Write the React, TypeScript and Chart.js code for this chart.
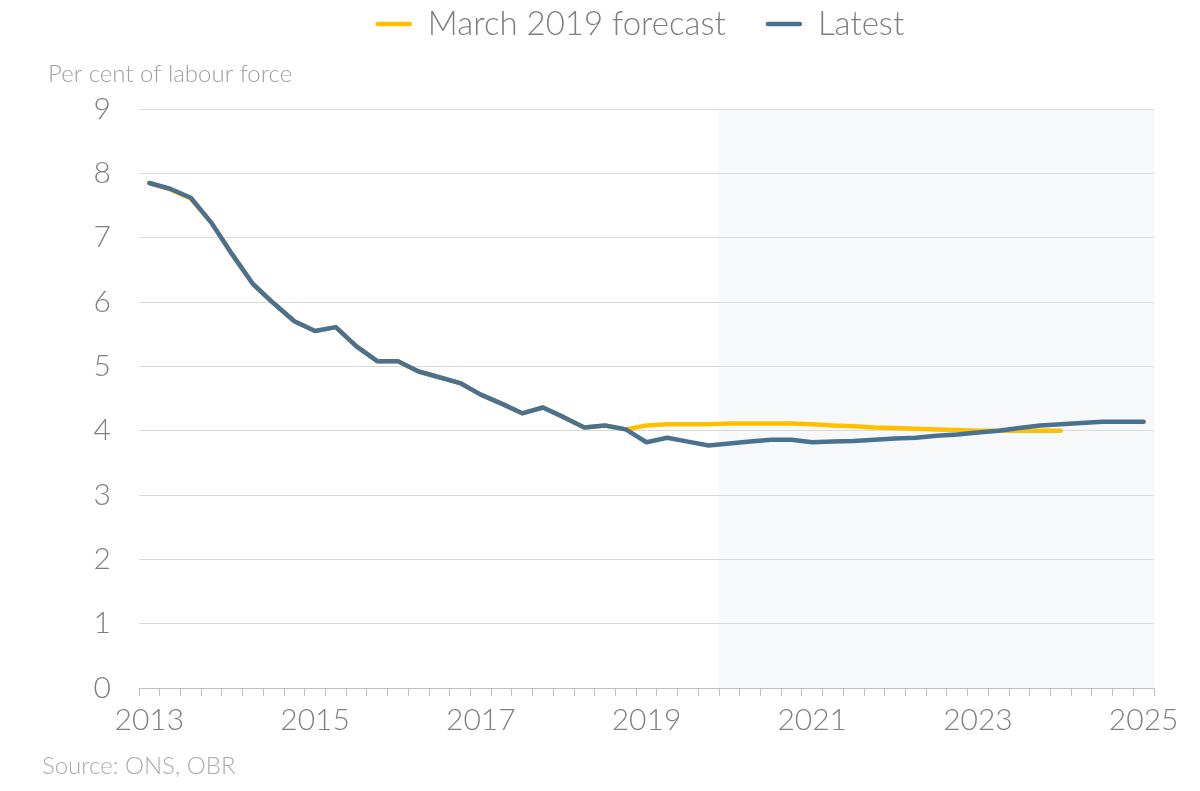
import React, { useEffect, useRef } from "react";
import { Chart, registerables } from "chart.js";

Chart.register(...registerables);

// ---- Data ----
const YEARS = [2013, 2014, 2015, 2016, 2017, 2018, 2019, 2020, 2021, 2022, 2023, 2024, 2025];
const QUARTERS = ["Q1", "Q2", "Q3", "Q4"];
const CATEGORIES: string[] = [];
YEARS.forEach((y) => QUARTERS.forEach((q) => CATEGORIES.push(`${y} ${q}`)));
CATEGORIES.splice(49); // 2013 Q1 .. 2025 Q1

const TICK_LABELS = ["2013", "2015", "2017", "2019", "2021", "2023", "2025"];

const LATEST = [
  7.85, 7.76, 7.62, 7.23, 6.74, 6.28, 5.98, 5.7, 5.55, 5.61, 5.31, 5.08, 5.08,
  4.92, 4.83, 4.74, 4.56, 4.42, 4.27, 4.36, 4.21, 4.05, 4.08, 4.02, 3.82, 3.89,
  3.83, 3.77, 3.8, 3.83, 3.86, 3.86, 3.82, 3.83, 3.84, 3.86, 3.88, 3.89, 3.92,
  3.94, 3.97, 4.0, 4.04, 4.08, 4.1, 4.12, 4.14, 4.14, 4.14,
];

const MARCH_2019 = [
  7.85, 7.75, 7.61, 7.23, 6.74, 6.28, 5.98, 5.7, 5.55, 5.61, 5.31, 5.08, 5.08,
  4.92, 4.83, 4.74, 4.56, 4.42, 4.27, 4.36, 4.21, 4.05, 4.08, 4.02, 4.08, 4.1,
  4.1, 4.1, 4.11, 4.11, 4.11, 4.11, 4.1, 4.08, 4.07, 4.05, 4.04, 4.03, 4.02,
  4.01, 4.0, 4.0, 4.0, 4.0, 4.0,
];

const SERIES_NAMES = ["March 2019 forecast", "Latest"];
const SERIES_COLORS = ["#FFC000", "#4A7190"];
const SHADE_START = "2020 Q1";
const Y_TITLE = "Per cent of labour force";
const SOURCE = "Source: ONS, OBR";

const FONT = "Lato";

export default function App() {
  const ref = useRef<HTMLCanvasElement | null>(null);

  useEffect(() => {
    document.body.style.margin = "0";
    const canvas = ref.current!;
    const decorPlugin = {
      id: "decor",
      beforeDraw(chart: any) {
        const { ctx, chartArea, scales } = chart;
        const xs = scales.x;
        const idx = CATEGORIES.indexOf(SHADE_START);
        const half = (xs.getPixelForValue(1) - xs.getPixelForValue(0)) / 2;
        const x0 = xs.getPixelForValue(idx) - half;
        ctx.save();
        ctx.fillStyle = "#F7F8FA";
        ctx.fillRect(x0, chartArea.top, chartArea.right - x0, chartArea.bottom - chartArea.top);
        ctx.restore();
      },
      afterDraw(chart: any) {
        const { ctx } = chart;
        ctx.save();
        // legend
        ctx.font = `300 33px ${FONT}`;
        ctx.textBaseline = "middle";
        const sw = 36, gap1 = 16, gap2 = 40;
        const widths = SERIES_NAMES.map((n) => ctx.measureText(n).width);
        const total = widths.reduce((a, w) => a + sw + gap1 + w, 0) + gap2 * (SERIES_NAMES.length - 1);
        let x = 640 - total / 2;
        const ly = 24;
        SERIES_NAMES.forEach((n, i) => {
          ctx.strokeStyle = SERIES_COLORS[i];
          ctx.lineWidth = 4.5;
          ctx.lineCap = "round";
          ctx.beginPath();
          ctx.moveTo(x + 2, ly);
          ctx.lineTo(x + sw - 2, ly);
          ctx.stroke();
          x += sw + gap1;
          ctx.fillStyle = "#7F7F7F";
          ctx.textAlign = "left";
          ctx.fillText(n, x, ly);
          x += widths[i] + gap2;
        });
        // y title
        ctx.font = `300 24px ${FONT}`;
        ctx.fillStyle = "#A0A0A0";
        ctx.fillText(Y_TITLE, 48, 74);
        // source
        ctx.fillStyle = "#ABABAB";
        ctx.fillText(SOURCE, 42, 766);
        ctx.restore();
      },
    };

    const chart = new Chart(canvas, {
      type: "line",
      data: {
        labels: CATEGORIES,
        datasets: [
          {
            label: SERIES_NAMES[0],
            data: MARCH_2019,
            borderColor: SERIES_COLORS[0],
            backgroundColor: SERIES_COLORS[0],
            borderWidth: 4.5,
            pointRadius: 0,
            borderCapStyle: "round",
            borderJoinStyle: "round",
            tension: 0,
            order: 1,
          },
          {
            label: SERIES_NAMES[1],
            data: LATEST,
            borderColor: SERIES_COLORS[1],
            backgroundColor: SERIES_COLORS[1],
            borderWidth: 4.5,
            pointRadius: 0,
            borderCapStyle: "round",
            borderJoinStyle: "round",
            tension: 0,
            order: 0,
          },
        ],
      },
      options: {
        responsive: false,
        animation: false,
        layout: { padding: { top: 109, right: 46, left: 0, bottom: 0 } },
        plugins: {
          legend: { display: false },
          tooltip: { enabled: false },
        },
        scales: {
          x: {
            type: "category",
            offset: true,
            afterFit(scale: any) {
              scale.height = 103;
            },
            grid: {
              offset: true,
              drawOnChartArea: false,
              drawTicks: true,
              tickLength: 8,
              color: "#BFBFBF",
              lineWidth: 1,
            },
            border: { display: true, color: "#BFBFBF", width: 1 },
            ticks: {
              autoSkip: false,
              maxRotation: 0,
              minRotation: 0,
              padding: 6,
              color: "#808080",
              font: { family: FONT, size: 30, weight: "300" as any },
              callback(_v: any, i: number) {
                const c = CATEGORIES[i];
                const [yr, q] = c.split(" ");
                return q === "Q1" && TICK_LABELS.includes(yr) ? yr : "";
              },
            },
          },
          y: {
            min: 0,
            max: 9,
            afterFit(scale: any) {
              scale.width = 139;
            },
            grid: { color: "#D9D9D9", lineWidth: 1, drawTicks: false },
            border: { display: false },
            ticks: {
              stepSize: 1,
              padding: 28,
              color: "#808080",
              font: { family: FONT, size: 30, weight: "300" as any },
            },
          },
        },
      },
      plugins: [decorPlugin],
    });
    return () => chart.destroy();
  }, []);

  return <canvas ref={ref} width={1200} height={791} style={{ display: "block" }} />;
}
